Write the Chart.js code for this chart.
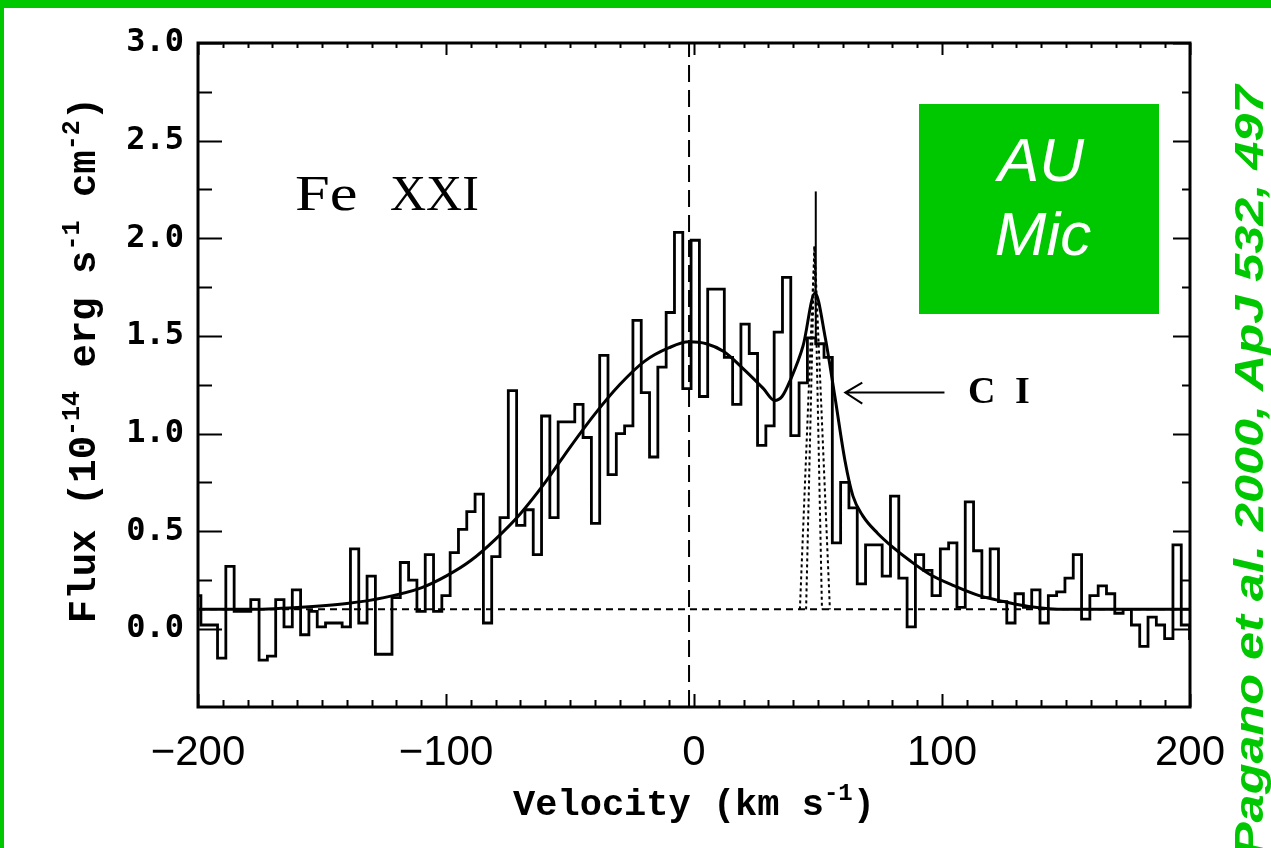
<!DOCTYPE html>
<html>
<head>
<meta charset="utf-8">
<script src="https://cdn.jsdelivr.net/npm/chart.js@4.4.1/dist/chart.umd.min.js"></script>
<style>
  html, body { margin: 0; padding: 0; background: #fff; }
  #wrap { width: 1271px; height: 848px; position: relative; }
</style>
</head>
<body>
<div id="wrap"><canvas id="lineChart" width="1271" height="848"></canvas></div>
<script>
// Fe XXI line profile, binned velocity (km/s) vs flux
var velocity = [
  -200.50, -197.15, -193.80, -190.45, -187.10, -183.75, -180.40, -177.05, -173.70, -170.35,
  -167.00, -163.65, -160.30, -156.95, -153.60, -150.25, -146.90, -143.55, -140.20, -136.85,
  -133.50, -130.15, -126.80, -123.45, -120.10, -116.75, -113.40, -110.05, -106.70, -103.35,
  -100.00, -96.65, -93.30, -89.95, -86.60, -83.25, -79.90, -76.55, -73.20, -69.85,
  -66.50, -63.15, -59.80, -56.45, -53.10, -49.75, -46.40, -43.05, -39.70, -36.35,
  -33.00, -29.65, -26.30, -22.95, -19.60, -16.25, -12.90, -9.55, -6.20, -2.85,
  0.50, 3.85, 7.20, 10.55, 13.90, 17.25, 20.60, 23.95, 27.30, 30.65,
  34.00, 37.35, 40.70, 44.05, 47.40, 50.75, 54.10, 57.45, 60.80, 64.15,
  67.50, 70.85, 74.20, 77.55, 80.90, 84.25, 87.60, 90.95, 94.30, 97.65,
  101.00, 104.35, 107.70, 111.05, 114.40, 117.75, 121.10, 124.45, 127.80, 131.15,
  134.50, 137.85, 141.20, 144.55, 147.90, 151.25, 154.60, 157.95, 161.30, 164.65,
  168.00, 171.35, 174.70, 178.05, 181.40, 184.75, 188.10, 191.45, 194.80, 198.15,
  201.50
];
var flux = [
  0.17, 0.02, 0.02, -0.15, 0.32, 0.09, 0.09, 0.15, -0.16, -0.14,
  0.15, 0.01, 0.20, -0.03, 0.09, 0.01, 0.03, 0.03, 0.01, 0.41,
  0.03, 0.27, -0.13, -0.13, 0.16, 0.34, 0.25, 0.09, 0.38, 0.09,
  0.17, 0.39, 0.51, 0.60, 0.69, 0.03, 0.37, 0.57, 1.22, 0.53,
  0.61, 0.38, 1.09, 0.57, 1.06, 1.06, 1.15, 0.98, 0.54, 1.40,
  0.79, 1.00, 1.04, 1.58, 1.21, 0.88, 1.34, 1.62, 2.03, 1.23,
  1.99, 1.19, 1.74, 1.74, 1.39, 1.15, 1.56, 1.41, 0.94, 1.04,
  1.52, 1.80, 0.99, 1.26, 1.49, 1.46, 1.39, 0.44, 0.75, 0.62,
  0.23, 0.43, 0.43, 0.27, 0.68, 0.26, 0.01, 0.38, 0.30, 0.17,
  0.41, 0.44, 0.11, 0.65, 0.40, 0.16, 0.41, 0.14, 0.03, 0.18,
  0.11, 0.20, 0.03, 0.17, 0.19, 0.26, 0.38, 0.05, 0.17, 0.22,
  0.18, 0.08, 0.10, 0.02, -0.09, 0.06, 0.02, -0.05, 0.43, 0.02,
  -0.05
];

// two-component fit (broad Fe XXI + narrow C I blend)
var fitVelocity = [-200, -180, -160, -140, -125, -110, -100, -90, -80, -70, -60, -50, -40, -30, -20, -10, -2, 5, 12, 20, 28, 32.5, 35.5, 38.7, 44, 48.8, 52.8, 56.8, 60.9, 64.1, 68, 74, 80, 87, 95, 105, 115, 125, 135, 150, 200];
var fitFlux     = [0.10, 0.10, 0.11, 0.13, 0.16, 0.21, 0.27, 0.35, 0.46, 0.59, 0.75, 0.93, 1.10, 1.25, 1.37, 1.44, 1.47, 1.46, 1.42, 1.33, 1.23, 1.17, 1.19, 1.27, 1.45, 1.72, 1.50, 1.19, 0.86, 0.68, 0.58, 0.49, 0.42, 0.35, 0.28, 0.22, 0.17, 0.14, 0.115, 0.10, 0.10];

// narrow C I component (dotted)
var ciOuterV = [42.7, 48.6, 54.8];
var ciInnerV = [45.2, 48.6, 51.6];
var ciFlux   = [0.10, 1.96, 0.10];

// single narrow spike at the C I position
var spikeV = [49.1, 49.1];
var spikeFlux = [1.49, 2.24];

var continuum = 0.10;
var restVelocity = -2;

var xTicks = [-200, -100, 0, 100, 200];
var yTicks = [0.0, 0.5, 1.0, 1.5, 2.0, 2.5, 3.0];

function pts(xs, ys) {
  return xs.map(function (v, i) { return { x: v, y: ys[i] }; });
}

var GREEN = '#00c800';

var frameAndNotes = {
  id: 'frameAndNotes',
  afterDraw: function (chart) {
    var ctx = chart.ctx, a = chart.chartArea;
    var x = chart.scales.x, y = chart.scales.y;
    ctx.save();

    // axes box
    ctx.strokeStyle = '#000';
    ctx.lineWidth = 3;
    ctx.strokeRect(a.left, a.top, a.right - a.left, a.bottom - a.top);

    // ticks on all four sides
    ctx.lineWidth = 2;
    ctx.beginPath();
    for (var v = -200; v <= 200; v += 10) {
      var px = Math.round(x.getPixelForValue(v)) + 0.5;
      var major = v % 100 === 0;
      ctx.moveTo(px, a.bottom); ctx.lineTo(px, a.bottom - (major ? 13 : 7));
      ctx.moveTo(px, a.top); ctx.lineTo(px, a.top + (major ? 12 : 5));
    }
    for (var k = 0; k <= 12; k++) {
      var val = k * 0.25;
      var py = Math.round(y.getPixelForValue(val)) + 0.5;
      var maj = k % 2 === 0;
      ctx.moveTo(a.left, py); ctx.lineTo(a.left + (maj ? 24 : 14), py);
      ctx.moveTo(a.right, py); ctx.lineTo(a.right - (maj ? 17 : 8), py);
    }
    ctx.stroke();

    // line labels
    ctx.fillStyle = '#000';
    ctx.textBaseline = 'alphabetic';
    ctx.textAlign = 'left';
    ctx.font = '50px "Liberation Serif"';
    ctx.save();
    ctx.translate(295, 210);
    ctx.scale(1.25, 1);
    ctx.fillText('Fe', 0, 0);
    ctx.restore();
    ctx.fillText('XXI', 390, 210);
    ctx.font = 'bold 38px "Liberation Serif"';
    ctx.fillText('C', 968, 403);
    ctx.fillText('I', 1015, 403);

    // arrow pointing at the C I blend
    var tipX = x.getPixelForValue(61), tailX = x.getPixelForValue(101);
    var ay = y.getPixelForValue(1.21);
    ctx.lineWidth = 2;
    ctx.beginPath();
    ctx.moveTo(tailX, ay); ctx.lineTo(tipX, ay);
    ctx.moveTo(tipX + 17, ay - 10); ctx.lineTo(tipX, ay); ctx.lineTo(tipX + 17, ay + 11);
    ctx.stroke();

    // axis titles with superscripts
    function setFont(p, big) {
      ctx.font = p.sup ? 'bold ' + Math.round(big * 0.65) + 'px "Liberation Mono"'
                       : 'bold ' + big + 'px "Liberation Mono"';
    }
    function runsWidth(parts, big) {
      var w = 0;
      parts.forEach(function (p) { setFont(p, big); w += ctx.measureText(p.t).width; });
      return w;
    }
    function runs(parts, big, startX, baseY) {
      var cx = startX;
      parts.forEach(function (p) {
        setFont(p, big);
        ctx.fillText(p.t, cx, p.sup ? baseY - big * 0.4 : baseY);
        cx += ctx.measureText(p.t).width;
      });
    }
    var xTitle = [{ t: 'Velocity (km s' }, { t: '-1', sup: true }, { t: ')' }];
    var yTitle = [{ t: 'Flux (10' }, { t: '-14', sup: true }, { t: ' erg s' }, { t: '-1', sup: true },
                  { t: ' cm' }, { t: '-2', sup: true }, { t: ')' }];
    var cxT = (a.left + a.right) / 2;
    runs(xTitle, 37, cxT - runsWidth(xTitle, 37) / 2, 815);
    ctx.save();
    ctx.translate(95, 360);
    ctx.rotate(-Math.PI / 2);
    runs(yTitle, 39, -runsWidth(yTitle, 39) / 2, 0);
    ctx.restore();

    // star label
    ctx.fillStyle = GREEN;
    ctx.fillRect(919, 104, 240, 210);
    ctx.fillStyle = '#fff';
    ctx.textAlign = 'center';
    ctx.font = 'italic 62px "Liberation Sans"';
    ctx.fillText('AU', 1041, 181);
    ctx.fillText('Mic', 1043, 255);

    // reference, running up the right edge
    ctx.save();
    ctx.fillStyle = GREEN;
    ctx.translate(1263, 856);
    ctx.rotate(-Math.PI / 2);
    ctx.scale(1.26, 1);
    ctx.textAlign = 'left';
    ctx.font = 'italic bold 40px "Liberation Sans"';
    ctx.fillText('Pagano et al. 2000, ApJ 532, 497', 0, 0);
    ctx.restore();

    // slide frame
    ctx.fillStyle = GREEN;
    ctx.fillRect(0, 0, chart.width, 8);
    ctx.fillRect(0, 0, 4, chart.height);

    ctx.restore();
  }
};

var ctxEl = document.getElementById('lineChart').getContext('2d');
var lineChart = new Chart(ctxEl, {
  type: 'line',
  data: {
    datasets: [
      {
        data: pts(velocity, flux),
        stepped: 'middle',
        borderColor: '#000',
        borderWidth: 2.8,
        pointRadius: 0,
        fill: false
      },
      {
        data: pts(fitVelocity, fitFlux),
        borderColor: '#000',
        borderWidth: 3,
        cubicInterpolationMode: 'monotone',
        pointRadius: 0,
        fill: false
      },
      {
        data: pts([-200, 200], [continuum, continuum]),
        borderColor: '#000',
        borderWidth: 2,
        borderDash: [7, 5],
        pointRadius: 0,
        fill: false
      },
      {
        data: pts([restVelocity, restVelocity], [-0.4, 3.0]),
        borderColor: '#000',
        borderWidth: 2,
        borderDash: [17, 8],
        pointRadius: 0,
        fill: false
      },
      {
        data: pts(ciOuterV, ciFlux),
        borderColor: '#000',
        borderWidth: 2,
        borderDash: [3, 3],
        pointRadius: 0,
        fill: false
      },
      {
        data: pts(ciInnerV, ciFlux),
        borderColor: '#000',
        borderWidth: 2,
        borderDash: [3, 3],
        pointRadius: 0,
        fill: false
      },
      {
        data: pts(spikeV, spikeFlux),
        borderColor: '#000',
        borderWidth: 2,
        pointRadius: 0,
        fill: false
      }
    ]
  },
  options: {
    responsive: false,
    animation: false,
    events: [],
    layout: { padding: { top: 43, right: 81, left: 0, bottom: 0 } },
    plugins: {
      legend: { display: false },
      tooltip: { enabled: false }
    },
    scales: {
      x: {
        type: 'linear',
        min: -200,
        max: 200,
        grid: { display: false, drawTicks: false },
        border: { display: false },
        afterBuildTicks: function (s) { s.ticks = xTicks.map(function (v) { return { value: v }; }); },
        afterFit: function (s) { s.height = 141; },
        ticks: {
          color: '#000',
          padding: 21,
          maxRotation: 0,
          font: { family: '"Liberation Sans"', size: 42 },
          callback: function (v) { return v < 0 ? '\u2212' + Math.abs(v) : String(v); }
        }
      },
      y: {
        type: 'linear',
        min: -0.4,
        max: 3.0,
        grid: { display: false, drawTicks: false },
        border: { display: false },
        afterBuildTicks: function (s) { s.ticks = yTicks.map(function (v) { return { value: v }; }); },
        afterFit: function (s) { s.width = 198; },
        ticks: {
          color: '#000',
          padding: 14,
          font: { family: '"DejaVu Sans Mono"', size: 32, weight: 'bold' },
          callback: function (v) { return Number(v).toFixed(1); }
        }
      }
    }
  },
  plugins: [frameAndNotes]
});
</script>
</body>
</html>
